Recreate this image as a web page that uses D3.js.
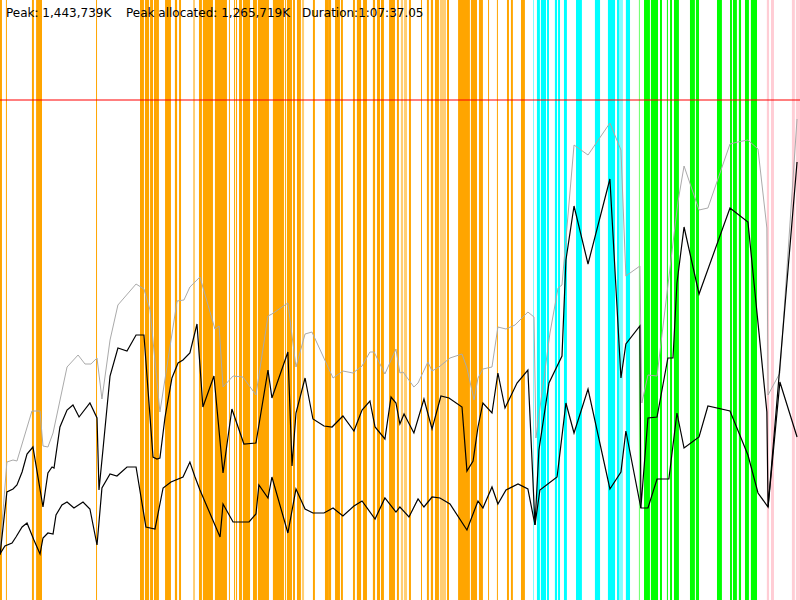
<!DOCTYPE html>
<html lang="en">
<head>
    <meta charset="UTF-8">
    <title>Memory profile</title>
    <style>
        body { margin: 0; background: #fff; }
        svg { display: block; }
        .header { font-family: "DejaVu Sans", sans-serif; font-size: 12px; fill: #000; }
    </style>
</head>
<body>
    <script src="https://d3js.org/d3.v7.min.js"></script>
    <script>
        // run length in seconds (1:07:37.05) and memory ceiling in MB
        const duration = 4057;
        const heapLimit = 1500;
        const headerTexts = ["Peak: 1,443,739K", "Peak allocated: 1,265,719K", "Duration:1:07:37.05"];

        // [seconds, MB]
        const committed = [[0,150],[35,414],[66,420],[86,417],[162,567],[203,567],[218,462],[243,459],[269,501],[340,699],[396,735],[431,708],[461,708],[492,726],[517,603],[558,780],[598,885],[690,948],[730,933],[761,870],[811,564],[898,897],[933,900],[963,939],[1014,969],[1090,813],[1111,822],[1131,639],[1182,672],[1232,669],[1298,615],[1359,852],[1379,858],[1460,891],[1501,699],[1547,798],[1582,804],[1689,666],[1739,687],[1790,681],[1836,702],[1876,744],[1897,744],[1952,678],[2008,753],[2028,681],[2044,684],[2099,639],[2120,651],[2170,714],[2191,687],[2226,699],[2282,726],[2343,738],[2368,696],[2404,600],[2424,666],[2449,693],[2495,699],[2525,819],[2566,813],[2612,825],[2677,864],[2708,849],[2718,486],[2789,801],[2830,936],[2850,945],[2911,1365],[2982,1335],[3093,1431],[3149,1350],[3174,972],[3245,1002],[3255,591],[3286,675],[3332,672],[3438,1194],[3469,1302],[3545,1170],[3590,1176],[3702,1368],[3742,1374],[3793,1380],[3844,1353],[3889,1116],[3895,615],[3955,681],[4042,1443]];

        const allocatedHigh = [[0,135],[35,324],[66,333],[86,345],[112,384],[137,438],[167,459],[218,279],[243,381],[264,399],[274,396],[304,519],[340,570],[370,585],[401,549],[456,591],[492,546],[502,330],[522,450],[558,672],[598,756],[644,747],[690,795],[730,795],[776,429],[796,423],[811,426],[837,549],[872,666],[903,711],[928,720],[963,741],[999,828],[1029,579],[1085,672],[1131,381],[1176,573],[1237,468],[1298,471],[1359,690],[1379,606],[1460,744],[1481,402],[1501,561],[1547,666],[1587,543],[1643,522],[1684,519],[1739,552],[1795,507],[1836,570],[1876,597],[1902,519],[1952,483],[1983,609],[2008,591],[2028,528],[2049,558],[2099,501],[2150,603],[2191,513],[2236,612],[2277,606],[2343,579],[2368,387],[2399,417],[2424,519],[2449,591],[2495,561],[2525,681],[2561,576],[2622,651],[2677,690],[2713,225],[2733,450],[2784,651],[2850,732],[2870,1020],[2911,1182],[2982,1008],[3093,1263],[3149,666],[3174,768],[3245,822],[3250,276],[3286,546],[3332,549],[3387,726],[3413,726],[3433,951],[3469,1119],[3545,918],[3702,1176],[3793,1134],[3889,564],[3895,279],[4042,1314]];

        const allocatedLow = [[0,138],[25,162],[61,171],[81,189],[112,219],[137,231],[172,180],[203,138],[218,186],[243,201],[269,198],[284,255],[314,285],[340,294],[375,276],[421,294],[456,273],[492,165],[517,336],[558,378],[593,372],[644,399],[690,399],[740,219],[786,213],[827,336],[867,354],[928,369],[963,414],[989,369],[1014,330],[1116,189],[1131,288],[1182,234],[1263,234],[1298,258],[1313,345],[1359,306],[1379,369],[1460,201],[1501,333],[1547,273],[1587,261],[1643,261],[1689,276],[1739,252],[1795,282],[1836,297],[1902,243],[1952,306],[2008,264],[2028,279],[2074,249],[2120,303],[2150,279],[2191,309],[2231,306],[2282,288],[2368,210],[2424,297],[2449,276],[2495,339],[2525,288],[2566,330],[2627,348],[2677,333],[2713,225],[2738,330],[2825,369],[2870,591],[2911,501],[2982,633],[3093,333],[3149,384],[3174,507],[3250,276],[3286,276],[3332,363],[3392,363],[3433,561],[3469,456],[3545,489],[3590,582],[3702,567],[3793,435],[3844,321],[3895,279],[3955,654],[4042,489]];

        // event spans [start, end] in seconds, per phase
        const orangeEvents = [[0,10],[30,35],[162,172],[183,213],[487,492],[710,730],[735,756],[761,776],[781,796],[796,806],[837,867],[887,898],[908,918],[1009,1024],[1029,1080],[1090,1151],[1161,1166],[1187,1192],[1197,1202],[1212,1227],[1232,1268],[1283,1303],[1308,1354],[1354,1364],[1384,1440],[1445,1450],[1455,1481],[1486,1496],[1506,1526],[1587,1597],[1648,1668],[1668,1679],[1699,1724],[1729,1739],[1790,1800],[1810,1831],[1841,1861],[1891,1902],[1912,1927],[1932,1947],[1973,2003],[2013,2023],[2074,2084],[2135,2140],[2165,2175],[2185,2196],[2206,2226],[2267,2277],[2323,2383],[2388,2419],[2429,2449],[2475,2480],[2520,2525],[2571,2581],[2591,2601],[2642,2662]];
        const orangeFaint = [[979,989],[1531,1542],[2033,2044],[2049,2064],[2231,2262]];
        const cyanEvents = [[2723,2738],[2743,2769],[2774,2784],[2814,2825],[2830,2840],[2860,2875],[2921,2951],[3017,3043],[3083,3119],[3129,3139],[3174,3195]];
        const cyanFaint = [[2703,2708],[3139,3159]];
        const greenEvents = [[3266,3296],[3301,3337],[3347,3357],[3382,3387],[3398,3408],[3418,3443],[3499,3524],[3529,3545],[3636,3661],[3702,3712],[3717,3737],[3747,3758],[3778,3798],[3808,3839]];
        const greenFaint = [[3240,3245]];
        const pinkEvents = [[3889,3900],[3910,3925],[4016,4031],[4036,4057]];

        const width = 800;
        const height = 600;

        const svg = d3.select("body").append("svg")
            .attr("width", width)
            .attr("height", height);

        const x = d3.scaleLinear().domain([0, duration]).range([0, width]);
        const y = d3.scaleLinear().domain([0, 1800]).range([height, 0]);

        function drawEvents(spans, color, opacity) {
            svg.append("g").selectAll("rect")
                .data(spans)
                .enter().append("rect")
                .attr("x", d => x(d[0]))
                .attr("y", 0)
                .attr("width", d => Math.max(1, x(d[1]) - x(d[0])))
                .attr("height", height)
                .attr("fill", color)
                .attr("opacity", opacity);
        }

        drawEvents(orangeEvents, "#ffa500", 1);
        drawEvents(orangeFaint, "#ffa500", 0.55);
        drawEvents(cyanEvents, "#00ffff", 1);
        drawEvents(cyanFaint, "#00ffff", 0.5);
        drawEvents(greenEvents, "#00ff00", 1);
        drawEvents(greenFaint, "#00ff00", 0.6);
        drawEvents(pinkEvents, "#ffc0cb", 0.8);

        // memory ceiling
        svg.append("line")
            .attr("x1", 0)
            .attr("x2", width)
            .attr("y1", y(heapLimit))
            .attr("y2", y(heapLimit))
            .attr("stroke", "red")
            .attr("stroke-opacity", 0.5)
            .attr("stroke-width", 2);

        const line = d3.line()
            .x(d => x(d[0]))
            .y(d => y(d[1]));

        svg.append("path").datum(committed)
            .attr("d", line)
            .attr("fill", "none")
            .attr("stroke", "#aaaaaa")
            .attr("stroke-width", 1);

        [allocatedHigh, allocatedLow].forEach(series => {
            svg.append("path").datum(series)
                .attr("d", line)
                .attr("fill", "none")
                .attr("stroke", "#000")
                .attr("stroke-width", 1.2);
        });

        const headerX = [6, 126, 302];
        svg.selectAll("text.header")
            .data(headerTexts)
            .enter().append("text")
            .attr("class", "header")
            .attr("x", (d, i) => headerX[i])
            .attr("y", 17)
            .text(d => d);
    </script>
</body>
</html>
